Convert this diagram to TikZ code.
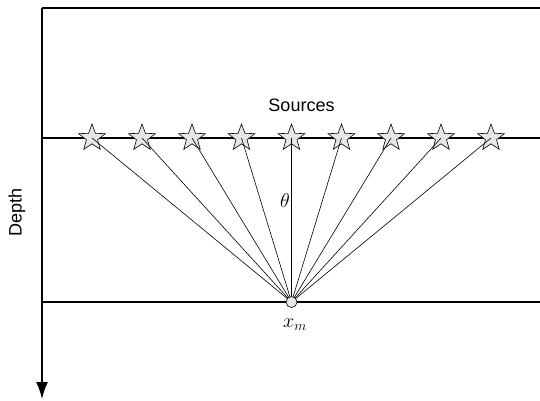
\RequirePackage{fix-cm}
\documentclass[tikz,border=0pt]{standalone}
\usepackage{fontspec}
\setsansfont{Liberation Sans}
\usetikzlibrary{arrows.meta,shapes.geometric}
\definecolor{inkline}{HTML}{000000}
\definecolor{srcfill}{HTML}{E6E6E6}

\begin{document}
\begin{tikzpicture}[
  x=1pt, y=-1pt,
  >={Latex[length=17pt,width=12pt]},
  layer/.style={draw=inkline, line width=1.6pt},
  axis/.style={->, draw=inkline, line width=1.6pt},
  ray/.style={draw=inkline, line width=0.6pt},
  src/.style={star, star points=5, star point ratio=2.4, minimum size=28pt, inner sep=0pt,
              draw=inkline, line width=0.6pt, fill=srcfill},
  pnt/.style={circle, minimum size=11pt, inner sep=0pt, draw=inkline, line width=0.6pt, fill=srcfill},
  lab/.style={font=\sffamily\fontsize{18}{21}\selectfont, text=inkline},
  mlab/.style={font=\fontsize{20}{24}\selectfont, text=inkline},
]
\useasboundingbox (0,0) rectangle (540,400);

% ---- frame and layers ----
\coordinate (top0) at (42,8);
\coordinate (top1) at (540,8);
\coordinate (srcl0) at (42,138);
\coordinate (srcl1) at (540,138);
\coordinate (bot0) at (42,302);
\coordinate (bot1) at (540,302);
\coordinate (dend) at (42,399);
\draw[layer] (top0) -- (top1);
\draw[layer] (srcl0) -- (srcl1);
\draw[layer] (bot0) -- (bot1);
\draw[axis] (top0) -- (dend);

% ---- sources ----
\node[src] (s1) at (92,138)  {};
\node[src] (s2) at (142,138) {};
\node[src] (s3) at (192,138) {};
\node[src] (s4) at (241.5,138) {};
\node[src] (s5) at (291.5,138) {};
\node[src] (s6) at (341.5,138) {};
\node[src] (s7) at (391,138) {};
\node[src] (s8) at (441,138) {};
\node[src] (s9) at (491,138) {};

% ---- rays ----
\coordinate (xmc) at (291.5,302);
\draw[ray] (xmc) -- (s1.center);
\draw[ray] (xmc) -- (s2.center);
\draw[ray] (xmc) -- (s3.center);
\draw[ray] (xmc) -- (s4.center);
\draw[ray] (xmc) -- (s5.center);
\draw[ray] (xmc) -- (s6.center);
\draw[ray] (xmc) -- (s7.center);
\draw[ray] (xmc) -- (s8.center);
\draw[ray] (xmc) -- (s9.center);
\node[pnt] (xm) at (xmc) {};

% ---- labels ----
\node[lab, anchor=base] (srclab) at (301.5,111.5) {Sources};
\node[lab, rotate=90] (deplab) at (17,212) {Depth};
\node[mlab] (thlab) at (285,201) {$\theta$};
\node[mlab, anchor=base] (xmlab) at (295,327) {$x_m$};

\end{tikzpicture}
\end{document}
